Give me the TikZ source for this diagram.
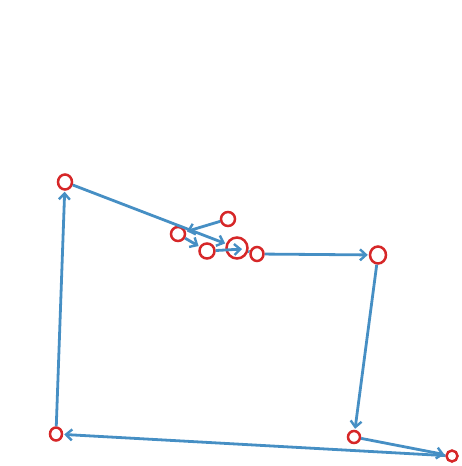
\documentclass[tikz,border=0pt]{standalone}
\usetikzlibrary{arrows.meta,shapes.geometric}
\definecolor{edgeblue}{RGB}{70,143,196}
\definecolor{nodered}{RGB}{214,39,40}
\tikzset{
  pt/.style={ellipse,draw=nodered,line width=2.5pt,inner sep=0pt},
  conn/.style={draw=edgeblue,line width=2.8pt,-{Straight Barb[length=6pt,width=11pt,line width=2.4pt]},shorten >=1pt},
  plainconn/.style={draw=edgeblue,line width=2.8pt}
}
\begin{document}
\begin{tikzpicture}[x=1pt,y=-1pt]
\useasboundingbox (0,0) rectangle (462,466);
\node[pt,minimum width=14pt,minimum height=15pt] (A) at (65,182) {};
\node[pt,minimum width=14pt,minimum height=14pt] (B) at (228,219) {};
\node[pt,minimum width=14pt,minimum height=14pt] (C) at (178,234) {};
\node[pt,minimum width=15pt,minimum height=15pt] (D) at (207,251) {};
\node[pt,minimum width=21pt,minimum height=21pt] (E) at (237,248) {};
\node[pt,minimum width=13pt,minimum height=14pt] (F) at (257,254) {};
\node[pt,minimum width=16pt,minimum height=17pt] (G) at (378,255) {};
\node[pt,minimum width=12pt,minimum height=12pt] (H) at (354,437) {};
\node[pt,minimum width=11pt,minimum height=11pt] (I) at (452,456) {};
\node[pt,minimum width=12pt,minimum height=13pt] (J) at (56,434) {};
\coordinate (Ein) at (243,249);
\draw[conn] (J) -- (A);
\draw[conn] (A) -- (E);
\draw[conn] (B) -- (C);
\draw[conn] (C) -- (D);
\draw[conn] (D) -- (Ein);
\draw[plainconn] (E) -- (F);
\draw[conn] (F) -- (G);
\draw[conn] (G) -- (H);
\draw[conn] (H) -- (I);
\draw[conn] (I) -- (J);
\end{tikzpicture}
\end{document}
